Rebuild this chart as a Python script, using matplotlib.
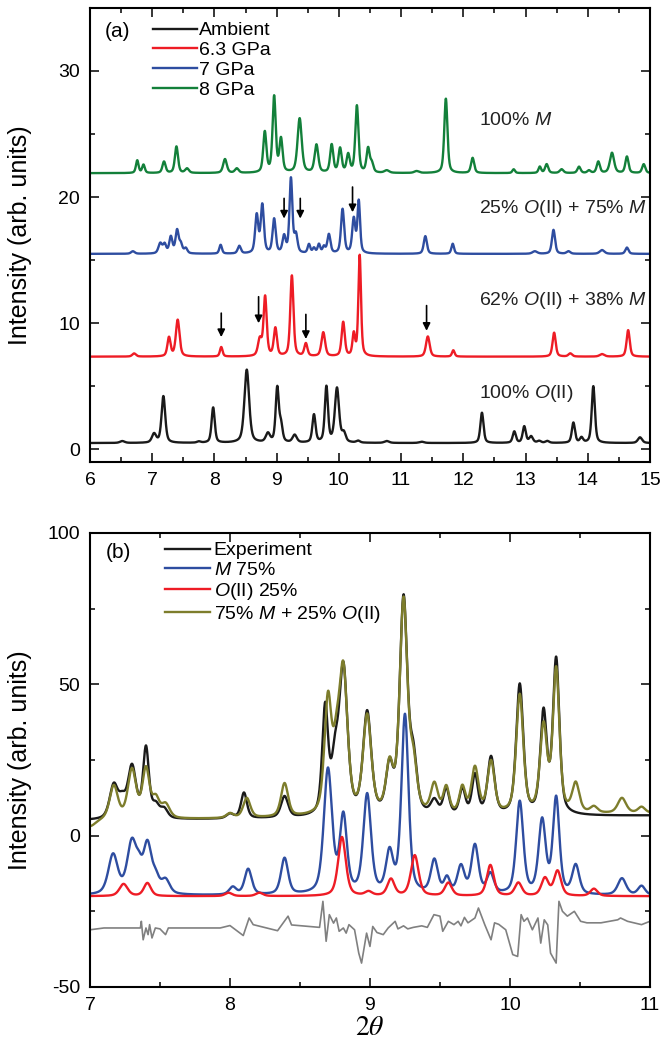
import numpy as np
import matplotlib
matplotlib.use("Agg")
import matplotlib.pyplot as plt
from matplotlib.ticker import MultipleLocator

plt.rcParams['font.family'] = ['Liberation Sans', 'DejaVu Sans']
plt.rcParams['mathtext.fontset'] = 'custom'
plt.rcParams['mathtext.it'] = 'Liberation Sans:italic'
plt.rcParams['mathtext.rm'] = 'Liberation Sans'
plt.rcParams['axes.unicode_minus'] = False

# ---------------- Panel (a) data: peak lists ----------------
# (position 2theta, height above baseline, FWHM)
amb_pos = [6.52, 7.03, 7.18, 7.75, 7.98, 8.52, 8.86, 9.01, 9.07, 9.29, 9.60, 9.80, 9.97, 10.08,
           10.31, 10.77, 11.33, 12.30, 12.82, 12.98, 13.09, 13.22, 13.35, 13.77, 13.90, 14.09, 14.84]
amb_amp = [0.15, 0.7, 3.7, 0.1, 2.8, 5.8, 0.7, 4.3, 1.3, 0.6, 2.2, 4.4, 4.3, 0.7,
           0.15, 0.15, 0.1, 2.4, 0.9, 1.3, 0.5, 0.15, 0.15, 1.6, 0.4, 4.5, 0.45]
amb_wid = [0.09, 0.08, 0.07, 0.07, 0.06, 0.09, 0.08, 0.06, 0.06, 0.08, 0.06, 0.06, 0.08, 0.07,
           0.07, 0.09, 0.09, 0.06, 0.06, 0.06, 0.07, 0.07, 0.07, 0.06, 0.06, 0.06, 0.08]
amb_base = 0.5

p63_pos = [6.71, 7.27, 7.41, 8.11, 8.73, 8.815, 8.98, 9.245, 9.47, 9.75, 10.07, 10.24, 10.335,
           11.43, 11.84, 13.46, 13.72, 14.23, 14.65]
p63_amp = [0.25, 1.5, 2.9, 0.75, 1.3, 4.7, 2.2, 6.4, 1.0, 1.9, 2.7, 1.7, 8.0,
           1.6, 0.5, 1.9, 0.25, 0.2, 2.1]
p63_wid = [0.07, 0.06, 0.07, 0.05, 0.07, 0.06, 0.06, 0.06, 0.06, 0.07, 0.06, 0.05, 0.05,
           0.07, 0.05, 0.06, 0.07, 0.09, 0.06]
p63_base = 7.35

p7_pos = [6.69, 7.13, 7.20, 7.30, 7.40, 7.46, 7.54, 8.10, 8.40, 8.68, 8.77, 8.96, 9.12, 9.23,
          9.31, 9.52, 9.60, 9.68, 9.76, 9.84, 10.06, 10.24, 10.32, 11.39, 11.83, 13.15, 13.45,
          13.69, 14.23, 14.63]
p7_amp = [0.2, 0.8, 0.7, 1.3, 1.8, 0.7, 0.4, 0.7, 0.6, 3.0, 3.8, 2.7, 1.3, 5.9,
          1.4, 0.7, 0.4, 0.7, 0.5, 1.5, 3.5, 2.7, 4.1, 1.4, 0.8, 0.2, 1.9,
          0.2, 0.3, 0.5]
p7_wid = [0.07, 0.07, 0.06, 0.06, 0.06, 0.06, 0.06, 0.05, 0.06, 0.06, 0.06, 0.06, 0.06, 0.055,
          0.06, 0.05, 0.05, 0.05, 0.05, 0.06, 0.06, 0.06, 0.05, 0.06, 0.05, 0.09, 0.06,
          0.07, 0.09, 0.06]
p7_base = 15.5

p8_pos = [6.76, 6.86, 7.19, 7.39, 7.56, 8.17, 8.36, 8.81, 8.96, 9.07, 9.37, 9.64, 9.885, 10.02,
          10.15, 10.29, 10.47, 10.53, 10.77, 11.25, 11.72, 12.15, 12.81, 13.23, 13.34, 13.58,
          13.86, 14.02, 14.17, 14.39, 14.63, 14.90]
p8_amp = [1.0, 0.65, 0.9, 2.1, 0.35, 1.1, 0.35, 3.2, 6.0, 2.6, 4.3, 2.2, 2.2, 1.9,
          1.4, 5.3, 1.9, 0.7, 0.2, 0.15, 5.9, 1.2, 0.3, 0.5, 0.7, 0.3,
          0.5, 0.2, 0.9, 1.6, 1.3, 0.7]
p8_wid = [0.05, 0.05, 0.06, 0.06, 0.07, 0.07, 0.07, 0.06, 0.06, 0.06, 0.08, 0.07, 0.06, 0.06,
          0.06, 0.06, 0.06, 0.06, 0.09, 0.09, 0.06, 0.06, 0.05, 0.05, 0.06, 0.07,
          0.06, 0.06, 0.06, 0.08, 0.06, 0.06]
p8_base = 21.9

labels_a = ["Ambient", "6.3 GPa", "7 GPa", "8 GPa"]
phase_text = ["100% $O$(II)", "62% $O$(II) + 38% $M$", "25% $O$(II) + 75% $M$", "100% $M$"]
phase_text_y = [4.4, 11.8, 19.1, 26.1]
phase_text_x = 12.25

arrows7_x = [9.12, 9.38, 10.22]
arrows7_tip = [18.3, 18.3, 18.8]
arrows7_top = [19.9, 19.9, 20.8]
arrows63_x = [8.11, 8.71, 9.47, 11.41]
arrows63_tip = [8.9, 10.0, 8.75, 9.4]
arrows63_top = [10.8, 12.1, 10.7, 11.4]

# ---------------- Panel (b) data ----------------
exp_pos = [7.17, 7.23, 7.30, 7.40, 7.47, 7.53, 8.00, 8.10, 8.39, 8.68, 8.75, 8.81, 8.98, 9.14,
           9.24, 9.31, 9.46, 9.545, 9.66, 9.75, 9.865, 10.07, 10.24, 10.33]
exp_amp = [11.0, 5.0, 17.0, 23.0, 4.0, 3.0, 1.5, 8.5, 7.0, 35.0, 16.0, 48.0, 33.5, 15.0,
           71.0, 17.0, 4.5, 8.5, 8.5, 13.0, 19.0, 43.0, 33.0, 51.0]
exp_wid = [0.07, 0.06, 0.07, 0.05, 0.06, 0.06, 0.06, 0.05, 0.06, 0.05, 0.06, 0.07, 0.07, 0.06,
           0.065, 0.06, 0.06, 0.05, 0.05, 0.05, 0.06, 0.06, 0.055, 0.055]
exp_base = (5.0, 6.6)

fit_pos = [7.0, 7.17, 7.30, 7.40, 7.47, 7.54, 8.00, 8.12, 8.39, 8.70, 8.76, 8.81, 8.98, 9.14,
           9.24, 9.31, 9.46, 9.545, 9.66, 9.75, 9.865, 10.07, 10.24, 10.33, 10.47, 10.60,
           10.80, 10.94]
fit_amp = [-2.3, 11.0, 16.0, 16.0, 6.0, 4.5, 1.5, 6.5, 11.0, 37.0, 16.0, 46.0, 32.0, 15.0,
           70.0, 15.0, 9.5, 8.5, 8.5, 15.0, 17.0, 39.0, 28.0, 47.0, 9.5, 2.0,
           5.0, 2.0]
fit_wid = [0.10, 0.07, 0.07, 0.06, 0.06, 0.07, 0.06, 0.06, 0.06, 0.06, 0.06, 0.07, 0.07, 0.06,
           0.065, 0.06, 0.06, 0.05, 0.05, 0.06, 0.06, 0.06, 0.06, 0.055, 0.06, 0.06,
           0.07, 0.06]
fit_base = (5.0, 7.3)

m_pos = [7.165, 7.30, 7.35, 7.41, 7.47, 7.54, 8.02, 8.13, 8.39, 8.70, 8.81, 8.98, 9.14, 9.25,
         9.46, 9.55, 9.65, 9.75, 9.86, 10.07, 10.23, 10.33, 10.47, 10.80, 10.94]
m_amp = [13.0, 17.0, 5.0, 16.0, 4.5, 4.5, 2.5, 8.5, 12.0, 41.0, 25.0, 32.5, 13.0, 59.0,
         11.0, 5.0, 9.0, 16.0, 6.5, 30.5, 24.0, 31.5, 9.5, 5.5, 3.0]
m_wid = [0.08, 0.08, 0.05, 0.07, 0.06, 0.07, 0.06, 0.06, 0.06, 0.07, 0.06, 0.065, 0.06, 0.06,
         0.06, 0.05, 0.06, 0.06, 0.06, 0.06, 0.06, 0.055, 0.06, 0.07, 0.06]
m_base = -19.8

o_pos = [7.24, 7.41, 7.99, 8.21, 8.80, 8.99, 9.15, 9.32, 9.56, 9.86, 10.06, 10.25, 10.34, 10.60]
o_amp = [4.0, 4.3, 1.1, 1.1, 19.5, 1.3, 5.5, 13.4, 4.3, 10.2, 4.3, 5.8, 8.2, 2.4]
o_wid = [0.07, 0.06, 0.06, 0.06, 0.065, 0.06, 0.06, 0.065, 0.06, 0.06, 0.06, 0.06, 0.06, 0.06]
o_base = -20.0

diff_x = [7.0, 7.10, 7.36, 7.367, 7.38, 7.40, 7.415, 7.426, 7.443, 7.467, 7.50, 7.54, 7.56,
          7.93, 8.0, 8.095, 8.137, 8.166, 8.34, 8.415, 8.44, 8.64, 8.664, 8.687, 8.71, 8.74,
          8.76, 8.78, 8.81, 8.83, 8.85, 8.89, 8.92, 8.94, 8.976, 9.0, 9.02, 9.05, 9.095, 9.13,
          9.18, 9.20, 9.24, 9.27, 9.31, 9.37, 9.41, 9.457, 9.50, 9.52, 9.56, 9.60, 9.63, 9.65,
          9.675, 9.70, 9.75, 9.775, 9.82, 9.865, 9.89, 9.92, 9.97, 10.02, 10.055, 10.08, 10.10,
          10.125, 10.16, 10.20, 10.22, 10.245, 10.27, 10.29, 10.33, 10.35, 10.375, 10.41, 10.46,
          10.505, 10.55, 10.65, 10.77, 10.79, 10.84, 10.94, 11.0]
diff_y = [-31.1, -30.5, -30.5, -28.3, -34.4, -30.5, -32.7, -29.4, -33.8, -30.5, -30.8, -32.7, -30.5,
          -30.5, -29.7, -33.0, -27.2, -29.4, -31.4, -26.6, -29.5, -30.3, -21.7, -34.9, -26.1, -28.9,
          -27.2, -31.6, -30.5, -32.2, -29.4, -31.1, -38.8, -42.1, -32.2, -36.6, -30.0, -32.0, -32.7, -30.5,
          -28.3, -30.8, -29.8, -30.8, -30.3, -29.8, -30.3, -26.1, -26.6, -31.6, -28.3, -29.4, -28.3, -29.8,
          -27.0, -28.8, -27.2, -23.9, -29.4, -34.4, -28.8, -29.3, -31.1, -39.3, -39.9, -26.1, -28.3,
          -27.2, -31.1, -27.2, -35.5, -27.8, -29.5, -38.8, -42.1, -21.7, -25.0, -26.6, -25.0,
          -28.3, -28.8, -28.8, -27.8, -27.2, -28.3, -29.4, -28.3]

labels_b = ["Experiment", "$M$ 75%", "$O$(II) 25%", "75% $M$ + 25% $O$(II)"]

# ---------------- helpers ----------------
ETA = 0.5


def pattern(x, pos, amp, wid, base):
    y = np.zeros_like(x)
    for p, a, w in zip(pos, amp, wid):
        d = (x - p) / w
        lor = 1.0 / (1.0 + 4.0 * d * d)
        gau = np.exp(-4.0 * np.log(2.0) * d * d)
        y += a * (ETA * lor + (1 - ETA) * gau)
    if np.ndim(base) == 0:
        return y + base
    b0, b1 = base
    return y + b0 + (b1 - b0) * (x - x[0]) / (x[-1] - x[0])


C_BLACK = '#1a1a1a'
C_RED = '#ee1c25'
C_BLUE = '#2e4da0'
C_GREEN = '#13803a'
C_OLIVE = '#7d7d2c'
C_GRAY = '#808080'
LW = 1.7

fig = plt.figure(figsize=(6.63, 10.44), dpi=100)
axA = fig.add_axes([0.1357, 0.5575, 0.8446, 0.4349])
axB = fig.add_axes([0.1357, 0.0546, 0.8446, 0.4349])

# ---------------- panel (a) ----------------
xa = np.linspace(6, 15, 4000)
series_a = [(amb_pos, amb_amp, amb_wid, amb_base, C_BLACK),
            (p63_pos, p63_amp, p63_wid, p63_base, C_RED),
            (p7_pos, p7_amp, p7_wid, p7_base, C_BLUE),
            (p8_pos, p8_amp, p8_wid, p8_base, C_GREEN)]
for (pos, amp, wid, base, col), lab in zip(series_a, labels_a):
    axA.plot(xa, pattern(xa, pos, amp, wid, base), color=col, lw=LW, label=lab)

for t, ty in zip(phase_text, phase_text_y):
    axA.text(phase_text_x, ty, t, fontsize=14, ha='left', va='center', color='#222222')

arrow_kw = dict(arrowstyle='-|>', color='black', lw=1.2, mutation_scale=11, shrinkA=0, shrinkB=0)
for xx, tip, top in zip(arrows7_x + arrows63_x, arrows7_tip + arrows63_tip, arrows7_top + arrows63_top):
    axA.annotate('', xy=(xx, tip), xytext=(xx, top), arrowprops=arrow_kw)

axA.set_xlim(6, 15)
axA.set_ylim(-1, 35)
axA.xaxis.set_major_locator(MultipleLocator(1))
axA.xaxis.set_minor_locator(MultipleLocator(0.5))
axA.yaxis.set_major_locator(MultipleLocator(10))
axA.yaxis.set_minor_locator(MultipleLocator(5))
axA.text(6.45, 33.1, '(a)', fontsize=15, ha='center', va='center')
axA.legend(loc='upper left', bbox_to_anchor=(0.1125, 0.9696), frameon=False, fontsize=14,
           handlelength=2.27, handletextpad=0.12, labelspacing=0.12, borderpad=0, borderaxespad=0)

# ---------------- panel (b) ----------------
xb = np.linspace(7, 11, 3000)
axB.plot(xb, pattern(xb, exp_pos, exp_amp, exp_wid, exp_base), color=C_BLACK, lw=LW, label=labels_b[0])
axB.plot(xb, pattern(xb, m_pos, m_amp, m_wid, m_base), color=C_BLUE, lw=LW, label=labels_b[1])
axB.plot(xb, pattern(xb, o_pos, o_amp, o_wid, o_base), color=C_RED, lw=LW, label=labels_b[2])
axB.plot(xb, pattern(xb, fit_pos, fit_amp, fit_wid, fit_base), color=C_OLIVE, lw=LW, label=labels_b[3])
axB.plot(diff_x, diff_y, color=C_GRAY, lw=1.2)

axB.set_xlim(7, 11)
axB.set_ylim(-50, 100)
axB.xaxis.set_major_locator(MultipleLocator(1))
axB.xaxis.set_minor_locator(MultipleLocator(0.5))
axB.yaxis.set_major_locator(MultipleLocator(50))
axB.yaxis.set_minor_locator(MultipleLocator(25))
axB.text(7.2, 93.5, '(b)', fontsize=15, ha='center', va='center')
axB.legend(loc='upper left', bbox_to_anchor=(0.134, 0.9806), frameon=False, fontsize=14,
           handlelength=2.3, handletextpad=0.2, labelspacing=0.1, borderpad=0, borderaxespad=0)
xl = axB.set_xlabel(r'$2\theta$', fontsize=20, math_fontfamily='stix', va='center')
axB.xaxis.set_label_coords(0.5, -0.090)

for ax in (axA, axB):
    for s in ax.spines.values():
        s.set_linewidth(1.5)
    ax.tick_params(which='both', direction='in', top=True, right=True, labelsize=14)
    ax.tick_params(which='major', length=6.5, width=1.1, pad=7)
    ax.tick_params(which='minor', length=3.8, width=1.1)
    ax.set_ylabel('Intensity (arb. units)', fontsize=18)
    ax.yaxis.set_label_coords(-0.104, 0.5)

fig.savefig('out.png', dpi=100)
